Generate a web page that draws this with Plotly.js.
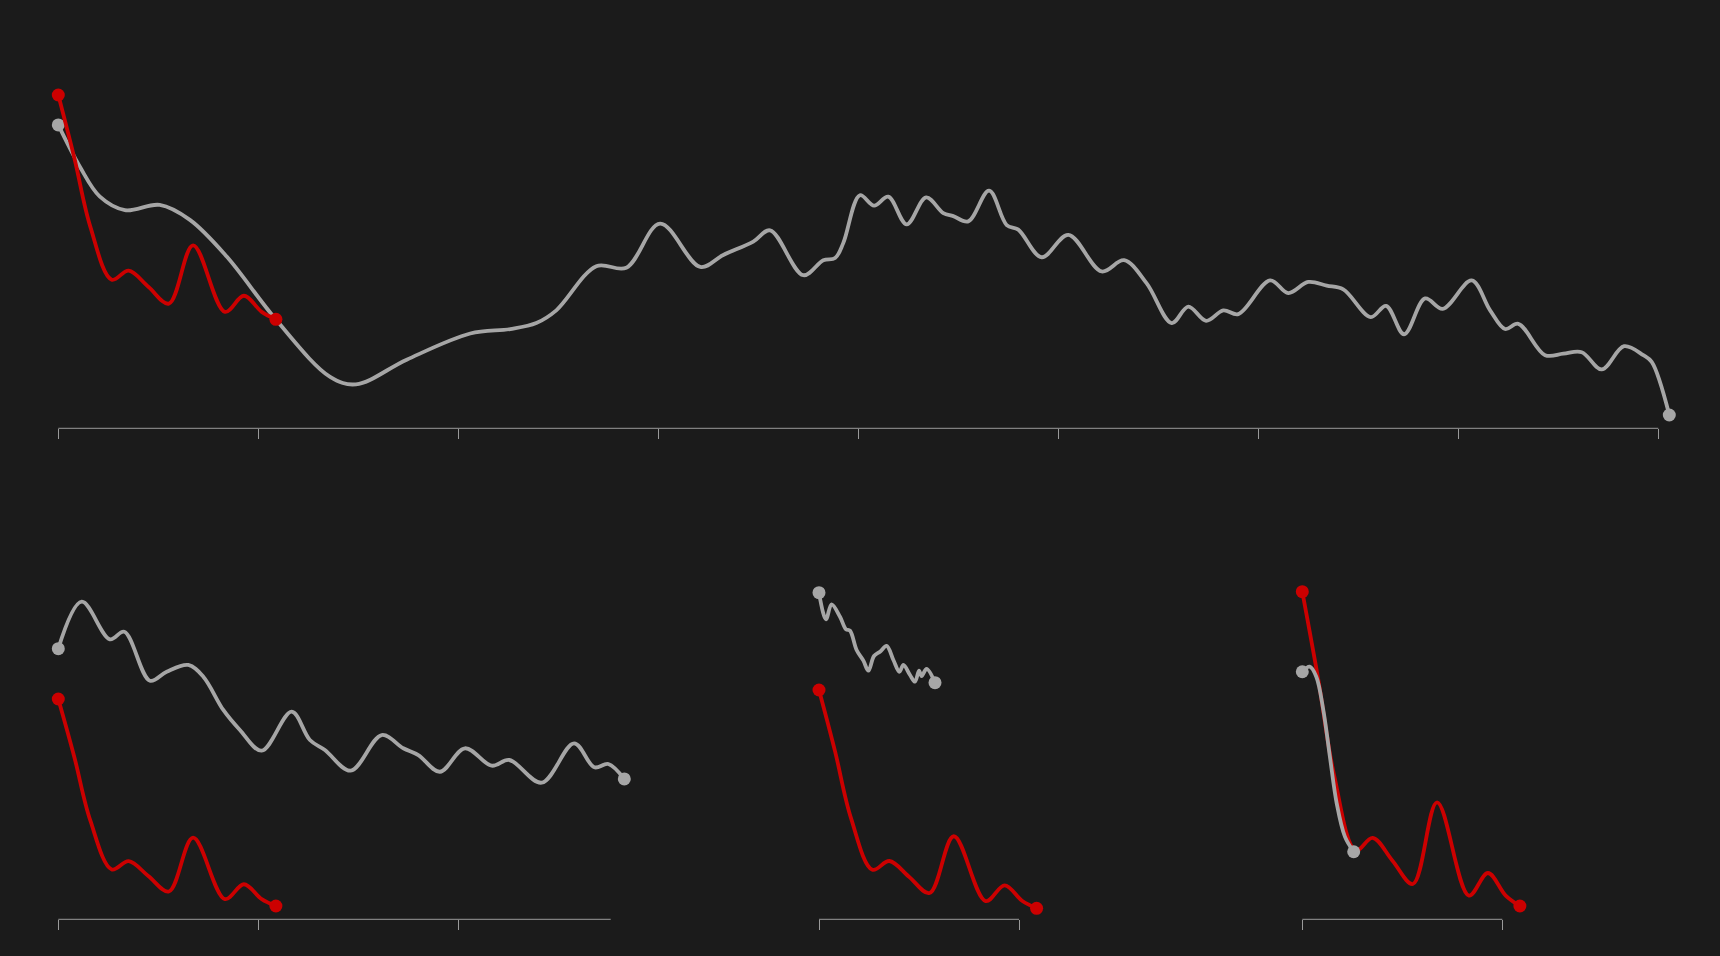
<!DOCTYPE html>
<html>
<head>
<meta charset="utf-8">
<script src="https://cdn.plot.ly/plotly-3.0.1.min.js"></script>
<style>
  html, body { margin: 0; padding: 0; background: #1b1b1b; }
  #chart { width: 1720px; height: 956px; }
</style>
</head>
<body>
<div id="chart"></div>
<script>
// ---- Data (x in years from start, y as index) ----
// Current decline (red), shared by all four panels
const redX = [0, 0.08, 0.16, 0.267, 0.352, 0.45, 0.553, 0.674, 0.833, 0.928, 1.017, 1.088];
const redY = [100, 91.6, 82.4, 75.3, 76.5, 74.35, 72.1, 79.9, 71.0, 73.15, 71.0, 70];

// Panel 1 (top) historical series
const grayTopX = [0, 0.108, 0.208, 0.333, 0.507, 0.658, 0.842, 1.09,
  1.359, 1.488, 1.742, 2.06, 2.26, 2.39, 2.49, 2.69, 2.84, 3.009,
  3.21, 3.325, 3.475, 3.559, 3.725, 3.825, 3.884, 3.925, 4.008, 4.079, 4.15,
  4.242, 4.339, 4.425, 4.475, 4.55, 4.654, 4.742, 4.8, 4.917, 5.05,
  5.217, 5.329, 5.442, 5.567, 5.65, 5.739, 5.825, 5.9, 6.059, 6.15,
  6.25, 6.342, 6.425, 6.562, 6.639, 6.729, 6.834, 6.922, 7.067, 7.159,
  7.234, 7.3, 7.434, 7.525, 7.617, 7.717, 7.829, 7.925, 7.967, 8.055];
const grayTopY = [96.0, 90.4, 86.4, 84.6, 85.3, 83.3, 78.4, 69.9,
  62.3, 61.3, 64.6, 68.1, 68.7, 69.5, 71.2, 77.1, 76.9, 82.8,
  77.0, 78.6, 80.4, 81.9, 75.9, 77.9, 78.2, 80.2, 86.6, 85.2, 86.4,
  82.7, 86.3, 84.2, 83.8, 83.1, 87.2, 82.6, 82.0, 78.3, 81.3,
  76.4, 77.9, 74.8, 69.5, 71.7, 69.8, 71.2, 70.7, 75.2, 73.5,
  75.0, 74.5, 74.0, 70.3, 71.8, 68.0, 72.8, 71.4, 75.2, 71.2,
  68.7, 69.4, 65.2, 65.4, 65.6, 63.3, 66.4, 65.2, 64.3, 57.2];

// Panel 2 (bottom left)
const grayLeftX = [0, 0.117, 0.258, 0.33, 0.458, 0.542, 0.65, 0.725, 0.825, 0.908,
  1.017, 1.167, 1.258, 1.333, 1.462, 1.617, 1.725, 1.8, 1.908, 2.033,
  2.167, 2.255, 2.417, 2.579, 2.68, 2.75, 2.83];
const grayLeftY = [107.3, 114.1, 108.65, 109.75, 102.65, 103.96, 104.93, 103.23, 98.41, 95.51,
  92.51, 98.16, 94.06, 92.61, 89.61, 94.78, 92.86, 91.88, 89.46, 92.86,
  90.33, 91.16, 87.87, 93.58, 90.10, 90.58, 88.41];

// Panel 3 (bottom middle)
const grayMidX = [0, 0.035, 0.063, 0.105, 0.135, 0.155, 0.188, 0.222, 0.247, 0.275,
  0.305, 0.338, 0.372, 0.402, 0.422, 0.455, 0.48, 0.5, 0.513, 0.538, 0.58];
const grayMidY = [113.37, 109.72, 111.78, 110.07, 108.34, 108.15, 105.50, 104.03, 102.65, 104.67,
  105.26, 106.05, 104.12, 102.51, 103.44, 102.06, 101.14, 102.65, 101.92, 102.89, 101.00];

// Panel 4 (bottom right)
const grayRightX = [0, 0.037, 0.07, 0.105, 0.138, 0.172, 0.213, 0.257];
const grayRightY = [92.36, 92.84, 91.89, 88.71, 84.25, 79.80, 76.62, 75.18];

// Tick positions (years)
const ticksTop = [0, 1, 2, 3, 4, 5, 6, 7, 8];
const ticksLeft = [0, 1, 2];
const ticksMid = [0, 1];
const ticksRight = [0, 1];

// ---- Layout geometry (pixels) ----
const W = 1720, H = 956;
const PX_PER_YEAR = 200;
const RED = '#cc0000';
const GRAY = '#a6a6a6';
const AXIS = '#9a9a9a';

const panels = [
  { id: '', grayX: grayTopX, grayY: grayTopY, ticks: ticksTop, axisEnd: 8,
    x0px: 58.3, left: 0, right: 1720, top: 20, bottom: 428.3, at100: 95, ppu: 7.4767, redOnTop: true },
  { id: '2', grayX: grayLeftX, grayY: grayLeftY, ticks: ticksLeft, axisEnd: 2.762,
    x0px: 58.3, left: 0, right: 700, top: 480, bottom: 919.3, at100: 699, ppu: 6.9, redOnTop: true },
  { id: '3', grayX: grayMidX, grayY: grayMidY, ticks: ticksMid, axisEnd: 1,
    x0px: 819, left: 740, right: 1160, top: 480, bottom: 919.3, at100: 690, ppu: 7.277, redOnTop: true },
  { id: '4', grayX: grayRightX, grayY: grayRightY, ticks: ticksRight, axisEnd: 1,
    x0px: 1302.3, left: 1240, right: 1720, top: 480, bottom: 919.3, at100: 591.7, ppu: 10.477, redOnTop: false }
];

const traces = [];
const layout = {
  width: W, height: H,
  margin: { l: 0, r: 0, t: 0, b: 0, pad: 0 },
  paper_bgcolor: '#1b1b1b',
  plot_bgcolor: 'rgba(0,0,0,0)',
  showlegend: false,
  hovermode: false,
  shapes: []
};

function lineTrace(xs, ys, color, p) {
  return {
    x: xs, y: ys, type: 'scatter', mode: 'lines',
    line: { color: color, width: 3.8, shape: 'spline', smoothing: 1 },
    xaxis: 'x' + p.id, yaxis: 'y' + p.id, hoverinfo: 'skip'
  };
}
function endsTrace(xs, ys, color, p) {
  const n = xs.length - 1;
  return {
    x: [xs[0], xs[n]], y: [ys[0], ys[n]], type: 'scatter', mode: 'markers',
    marker: { color: color, size: 13, line: { width: 0 } },
    cliponaxis: false,
    xaxis: 'x' + p.id, yaxis: 'y' + p.id, hoverinfo: 'skip'
  };
}

panels.forEach(p => {
  const gray = [lineTrace(p.grayX, p.grayY, GRAY, p), endsTrace(p.grayX, p.grayY, GRAY, p)];
  const red = [lineTrace(redX, redY, RED, p), endsTrace(redX, redY, RED, p)];
  if (p.redOnTop) traces.push(...gray, ...red); else traces.push(...red, ...gray);

  const xr = [(p.left - p.x0px) / PX_PER_YEAR, (p.right - p.x0px) / PX_PER_YEAR];
  const yr = [100 - (p.bottom - p.at100) / p.ppu, 100 - (p.top - p.at100) / p.ppu];

  layout['xaxis' + p.id] = {
    domain: [p.left / W, p.right / W],
    range: xr,
    anchor: 'y' + p.id,
    tickmode: 'array', tickvals: p.ticks,
    ticks: 'outside', ticklen: 10, tickwidth: 1, tickcolor: AXIS,
    showticklabels: false, showgrid: false, zeroline: false, showline: false,
    fixedrange: true
  };
  layout['yaxis' + p.id] = {
    domain: [1 - p.bottom / H, 1 - p.top / H],
    range: yr,
    anchor: 'x' + p.id,
    visible: false, showgrid: false, zeroline: false,
    fixedrange: true
  };
  layout.shapes.push({
    type: 'line', xref: 'x' + p.id, yref: 'y' + p.id + ' domain',
    x0: 0, x1: p.axisEnd, y0: 0, y1: 0,
    line: { color: AXIS, width: 1 }, layer: 'below'
  });
});

Plotly.newPlot('chart', traces, layout, { displayModeBar: false, staticPlot: true });
</script>
</body>
</html>
